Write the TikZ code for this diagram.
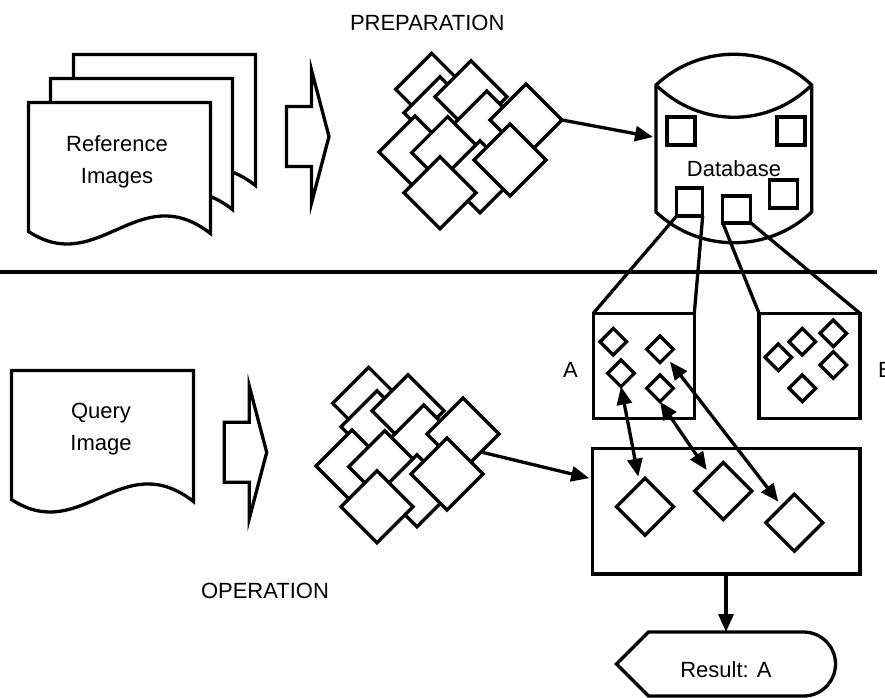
\documentclass[tikz,border=0pt]{standalone}
\usepackage{fontspec}
\setmainfont{Liberation Sans}
\usetikzlibrary{shapes.geometric,arrows.meta,calc}
\begin{document}
\begin{tikzpicture}[x=1pt,y=-1pt,
  line width=3.3pt, line join=miter,
  txt/.style={font=\fontsize{22}{31.5}\selectfont, inner sep=0pt, outer sep=0pt},
  bigdia/.style={diamond, aspect=1, draw, fill=white, inner sep=0pt, outer sep=0pt, minimum width=72pt, minimum height=72pt},
  middia/.style={diamond, aspect=1, draw, fill=white, inner sep=0pt, outer sep=0pt, minimum width=57pt, minimum height=57pt},
  smalldia/.style={diamond, aspect=1, draw, fill=white, inner sep=0pt, outer sep=0pt, minimum width=26.6pt, minimum height=26.6pt},
  boxnode/.style={draw, rectangle, fill=white, inner sep=0pt, outer sep=0pt},
  sqnode/.style={draw, rectangle, fill=white, minimum width=28pt, minimum height=28pt, inner sep=0pt, outer sep=0pt},
  arr/.style={-{Triangle[length=18pt,width=15pt]}},
  darr/.style={{Triangle[length=18pt,width=15pt]}-{Triangle[length=18pt,width=15pt]}},
  docpage/.pic={\draw[fill=white] (0,0) -- (182,0) -- (182,131) .. controls (110,75) and (70,175) .. (0,129) -- cycle;},
  fatarrow/.pic={\draw[fill=white] (0,-30) -- (25,-30) -- (25,-66.5) -- (42.5,0) -- (25,66.5) -- (25,30) -- (0,30) -- cycle;}
]
\useasboundingbox (0,0) rectangle (885,697);
\fill[white] (0,0) rectangle (885,697);

% ---------- preparation ----------
\pic at (73.5,54.5) {docpage};
\pic at (50.5,78.5) {docpage};
\pic at (28.5,102.5) {docpage};
\node[txt, align=center] (reftxt) at (117,162) {Reference\\Images};
\pic at (286.5,136.5) {fatarrow};

\foreach \n/\x/\y in {1/431.7/89.3, 3/440/112.7, 2/471/96.7, 6/415/152, 4/486.7/127, 7/447.7/152.7, 5/526/120, 8/480/176.7, 9/510/160, 10/440/192.7}
  \node[bigdia] (t\n) at (\x,\y) {};

% database
\coordinate (dbw) at (653,137);
\draw[fill=white] (656,212) -- (656,85) .. controls (700,44) and (768,44) .. (811.7,85)
   -- (811.7,212) .. controls (768,253) and (700,253) .. cycle;
\draw (656,85) .. controls (700,128) and (768,128) .. (811.7,85);
\node[sqnode] (sq1) at (681,130.85) {};
\node[sqnode] (sq2) at (790.85,130.85) {};
\node[sqnode] (sq3) at (783.5,194) {};
\node[sqnode, minimum width=26pt] (sq4) at (689.7,201.85) {};
\node[sqnode, minimum height=27pt] (sq5) at (736.7,209.35) {};
\node[txt, anchor=base] (dbtxt) at (734,176.7) {Database};

\draw[arr] (t5.east) -- (dbw);

\node[txt, anchor=base west] (prep) at (350,30) {PREPARATION};

% separator
\draw (0,272) -- (877,272);

% ---------- reference feature boxes ----------
\node[boxnode, minimum width=101pt, minimum height=105pt] (boxA) at (643.8,365.8) {};
\node[boxnode, minimum width=101pt, minimum height=105pt] (boxB) at (809.5,365.8) {};
\draw (sq4.south west) -- (boxA.north west);
\draw (sq4.south east) -- (boxA.north east);
\draw (sq5.south west) -- (boxB.north west);
\draw (sq5.south east) -- (boxB.north east);

\node[smalldia] (a1) at (613.3,341.7) {};
\node[smalldia] (a2) at (660,349.3) {};
\node[smalldia] (a3) at (621,373.3) {};
\node[smalldia] (a4) at (660,388.3) {};
\node[smalldia] (b1) at (778.3,357.3) {};
\node[smalldia] (b2) at (802.3,341.7) {};
\node[smalldia] (b3) at (833.3,333.3) {};
\node[smalldia] (b4) at (833.3,365) {};
\node[smalldia] (b5) at (802.3,388.3) {};

\node[txt, anchor=base] (labA) at (570.5,377) {A};
\node[txt, anchor=base west] (labB) at (878,377) {B};

% ---------- operation ----------
\pic at (11.5,370.5) {docpage};
\node[txt, align=center] (qtxt) at (101,429) {Query\\Image};
\pic at (224.2,452.3) {fatarrow};

\foreach \n/\x/\y in {1/431.7/89.3, 3/440/112.7, 2/471/96.7, 6/415/152, 4/486.7/127, 7/447.7/152.7, 5/526/120, 8/480/176.7, 9/510/160, 10/440/192.7}
  \node[bigdia] (l\n) at (\x-63,\y+314) {};

\node[boxnode, minimum width=267.7pt, minimum height=125.7pt] (match) at (726,511.15) {};
\node[middia] (c1) at (645,506.7) {};
\node[middia] (c2) at (723.3,491) {};
\node[middia] (c3) at (794.3,522.7) {};

\draw[arr] ($(l5.east)!0.5!(l5.south)$) -- ([shift={(-3,-33)}]match.west);

\draw[darr] (a3.south) -- ([shift={(-6.7,-1.5)}]c1.north);
\draw[darr] (a4.south) -- ([shift={(-16.6,7.5)}]c2.north);
\draw[darr] ([shift={(10,12.4)}]a2.center) -- ([shift={(-16,7.5)}]c3.north);

\node[txt, anchor=base west] (oper) at (201,598) {OPERATION};

% result
\node[inner sep=0pt, outer sep=0pt, minimum width=219pt, minimum height=64pt] (result) at (726,664) {};
\draw[fill=white] (result.west) -- ([xshift=32pt]result.north west) -- ([xshift=-32pt]result.north east)
   arc[start angle=-90, end angle=90, radius=32] -- ([xshift=32pt]result.south west) -- cycle;
\node[txt, anchor=base] (restxt) at (726,677) {Result: A};
\draw[arr] (match.south) -- (result.north);
\end{tikzpicture}
\end{document}
